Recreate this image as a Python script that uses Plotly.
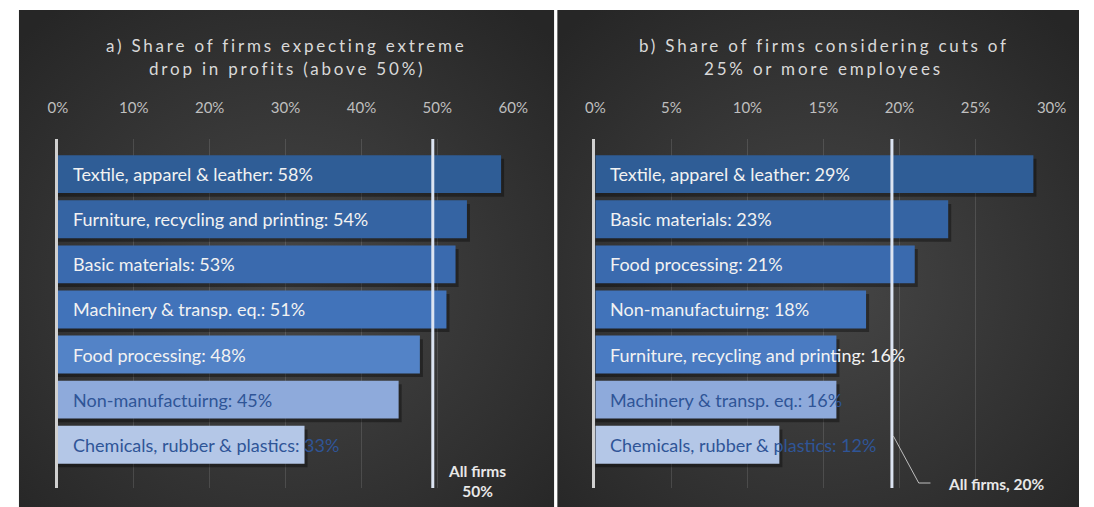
import plotly.graph_objects as go
import base64

# ---------------- data ----------------
sectors_a = ["Textile, apparel & leather", "Furniture, recycling and printing", "Basic materials",
             "Machinery & transp. eq.", "Food processing", "Non-manufactuirng",
             "Chemicals, rubber & plastics"]
values_a = [58.4, 53.9, 52.4, 51.2, 47.7, 44.9, 32.5]
labels_a = [58, 54, 53, 51, 48, 45, 33]
all_firms_a = 49.4
all_firms_a_label = 50

sectors_b = ["Textile, apparel & leather", "Basic materials", "Food processing",
             "Non-manufactuirng", "Furniture, recycling and printing",
             "Machinery & transp. eq.", "Chemicals, rubber & plastics"]
values_b = [28.8, 23.2, 21.0, 17.8, 15.85, 15.85, 12.1]
labels_b = [29, 23, 21, 18, 16, 16, 12]
all_firms_b = 19.5
all_firms_b_label = 20

title_a = ["a) Share of firms expecting extreme", "drop in profits (above 50%)"]
title_b = ["b) Share of firms considering cuts of", "25% or more employees"]

# ---------------- styles ----------------
W, H = 1094, 507
bar_colors = ["#2f5d96", "#3564a3", "#3a6aae", "#4173ba", "#5383c7", "#8eaadb", "#b4c7e7"]
bar_colors_b = ["#2f5d96", "#3564a3", "#3a6aae", "#4173ba", "#4a7bc2", "#8eaadb", "#b4c7e7"]
text_colors = ["#f2f2f2", "#f2f2f2", "#f2f2f2", "#f2f2f2", "#f2f2f2", "#2f5597", "#2f5597"]
text_colors_b = ["#f2f2f2", "#f2f2f2", "#f2f2f2", "#f2f2f2", "#f2f2f2", "#2f5597", "#2f5597"]
BAR_W = 0.84


def px_x(p):
    return p / W


def px_y(p):
    return 1 - p / H


svg = ('<svg xmlns="http://www.w3.org/2000/svg" width="540" height="500" viewBox="0 0 540 500" '
       'preserveAspectRatio="none">'
       '<defs><radialGradient id="g" cx="50%" cy="55%" r="70%">'
       '<stop offset="0%" stop-color="#474747"/><stop offset="100%" stop-color="#262626"/>'
       '</radialGradient></defs><rect width="540" height="500" fill="url(#g)"/></svg>')
bg_src = "data:image/svg+xml;base64," + base64.b64encode(svg.encode()).decode()

fig = go.Figure()

# soft drop shadows under the bars (same values, shifted slightly)
for vals, sec, xa, ya, ext in [(values_a, sectors_a, "x", "y", 0.4), (values_b, sectors_b, "x2", "y2", 0.2)]:
    fig.add_trace(go.Bar(x=[v + ext for v in vals], y=sec, orientation="h", xaxis=xa, yaxis=ya,
                         marker=dict(color="rgba(0,0,0,0.35)", line=dict(width=0)),
                         width=BAR_W, offset=-BAR_W / 2 + 0.08, hoverinfo="skip", showlegend=False))

fig.add_trace(go.Bar(x=values_a, y=sectors_a, orientation="h", xaxis="x", yaxis="y",
                     marker=dict(color=bar_colors, line=dict(width=0)), width=BAR_W,
                     offset=-BAR_W / 2, hoverinfo="skip", showlegend=False))
fig.add_trace(go.Bar(x=values_b, y=sectors_b, orientation="h", xaxis="x2", yaxis="y2",
                     marker=dict(color=bar_colors_b, line=dict(width=0)), width=BAR_W,
                     offset=-BAR_W / 2, hoverinfo="skip", showlegend=False))

y_top, y_bot = 139, 488
yrange = [6.96, -0.78]
tickfont = dict(family="Lato", size=15, color="#bfbfbf")
grid = "rgba(255,255,255,0.12)"

fig.update_layout(
    width=W, height=H, margin=dict(l=0, r=0, t=0, b=0),
    paper_bgcolor="white", plot_bgcolor="rgba(0,0,0,0)",
    barmode="overlay",
    xaxis=dict(domain=[px_x(49), px_x(515)], range=[0, 60], dtick=10, ticksuffix="%",
               side="top", anchor="y", showgrid=True, gridcolor=grid, gridwidth=1,
               zeroline=False, tickfont=tickfont, ticks="", ticklabelstandoff=22,
               fixedrange=True),
    yaxis=dict(domain=[px_y(y_bot), px_y(y_top)], type="category", categoryorder="array",
               categoryarray=sectors_a, range=yrange, showticklabels=False, anchor="x",
               showgrid=False, zeroline=False, showline=True, linecolor="#d0d0d0", linewidth=3,
               ticks="", fixedrange=True),
    xaxis2=dict(domain=[px_x(599), px_x(1066)], range=[0, 30], dtick=5, ticksuffix="%",
                side="top", anchor="y2", showgrid=True, gridcolor=grid, gridwidth=1,
                zeroline=False, tickfont=tickfont, ticks="", ticklabelstandoff=22,
                fixedrange=True),
    yaxis2=dict(domain=[px_y(y_bot), px_y(y_top)], type="category", categoryorder="array",
                categoryarray=sectors_b, range=yrange, showticklabels=False, anchor="x2",
                showgrid=False, zeroline=False, showline=True, linecolor="#d0d0d0", linewidth=3,
                ticks="", fixedrange=True),
)

# panel backgrounds
for x0, x1 in [(9, 557), (560, 1094)]:
    fig.add_layout_image(dict(source=bg_src, xref="paper", yref="paper",
                              x=px_x(x0), y=px_y(10), sizex=px_x(x1) - px_x(x0),
                              sizey=px_y(10) - px_y(507), xanchor="left", yanchor="top",
                              sizing="stretch", layer="below"))

# all-firms lines
fig.add_shape(type="line", xref="x", yref="y domain", x0=all_firms_a, x1=all_firms_a, y0=0, y1=1,
              line=dict(color="#dce4f2", width=3), layer="above")
fig.add_shape(type="line", xref="x2", yref="y2 domain", x0=all_firms_b, x1=all_firms_b, y0=0, y1=1,
              line=dict(color="#dce4f2", width=3), layer="above")

# bar labels
lab_font = "Lato"
for s, v, c in zip(sectors_a, labels_a, text_colors):
    fig.add_annotation(x=0, y=s, xref="x", yref="y", text=f"{s}: {v}%", showarrow=False,
                       xanchor="left", xshift=13, font=dict(family=lab_font, size=18, color=c))
for s, v, c in zip(sectors_b, labels_b, text_colors_b):
    fig.add_annotation(x=0, y=s, xref="x2", yref="y2", text=f"{s}: {v}%", showarrow=False,
                       xanchor="left", xshift=13, font=dict(family=lab_font, size=18, color=c))

# titles (letter-spaced)
tfont = dict(family="Lato", size=17, color="#d9d9d9")
for cx, lines in [(283, title_a), (833, title_b)]:
    for ly, line in zip([45, 68], lines):
        fig.add_annotation(x=px_x(cx), y=px_y(ly), xref="paper", yref="paper",
                           text=f'<span style="letter-spacing:2.8px">{line}</span>',
                           showarrow=False, font=tfont, xanchor="center", yanchor="middle")

# all firms labels
fig.add_annotation(x=px_x(478), y=px_y(481), xref="paper", yref="paper",
                   text=f"<b>All firms</b><br><b>{all_firms_a_label}%</b>", showarrow=False,
                   xanchor="center", yanchor="middle",
                   font=dict(family=lab_font, size=15.5, color="#e8e8e8"), align="center")
fig.add_annotation(x=px_x(958), y=px_y(484), xref="paper", yref="paper",
                   text=f"<b>All firms, {all_firms_b_label}%</b>", showarrow=False, xanchor="left",
                   yanchor="middle", font=dict(family=lab_font, size=15.5, color="#e8e8e8"))
fig.add_shape(type="path", xref="paper", yref="paper",
              path=f"M {px_x(904)} {px_y(436)} L {px_x(930)} {px_y(483)} L {px_x(942)} {px_y(483)}",
              line=dict(color="#bfbfbf", width=1))

fig.write_html("out.html", config={"displayModeBar": False, "staticPlot": True},
               post_script="document.body.style.margin='0';document.body.style.overflow='hidden';")
